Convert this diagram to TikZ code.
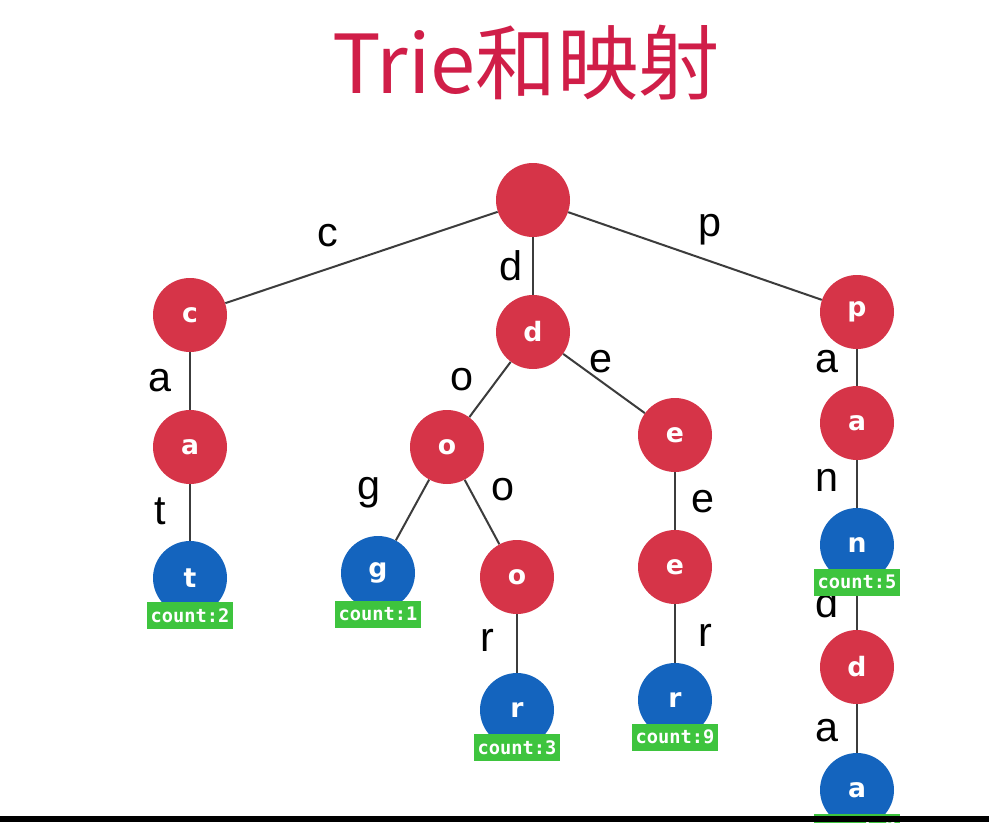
\documentclass[tikz,border=0pt]{standalone}
\usepackage{fontspec}
\setmainfont{Liberation Sans}
\newfontfamily\cjk{Noto Sans CJK SC}
\newfontfamily\letterfont{DejaVu Sans}
\newfontfamily\countfont{DejaVu Sans Mono}
\usepackage{tikz}
\usetikzlibrary{positioning}

\definecolor{titlered}{RGB}{208,30,72}
\definecolor{nodered}{RGB}{214,52,72}
\definecolor{nodeblue}{RGB}{20,100,190}
\definecolor{countgreen}{RGB}{62,196,62}
\definecolor{edgegray}{RGB}{60,60,60}

\tikzset{
    trienode/.style={circle, fill=nodered, minimum size=55.5pt, inner sep=0pt,
        text=white, font=\letterfont\bfseries\fontsize{20}{20}\selectfont},
    wordnode/.style={trienode, fill=nodeblue},
    countbox/.style={fill=countgreen, text=white, inner sep=0pt,
        minimum width=65pt, minimum height=20pt,
        font=\countfont\bfseries\fontsize{14}{14}\selectfont},
    edgelbl/.style={font=\fontsize{31}{31}\selectfont, inner sep=0pt},
    trieedge/.style={draw=edgegray, line width=1.5pt}
}

\begin{document}
\begin{tikzpicture}[x=0.75pt,y=-0.75pt]
    \useasboundingbox[fill=white] (0,0) rectangle (989,822);

    % Title
    \node[text=titlered, font=\cjk\fontsize{61}{61}\selectfont] (title) at (526,63) {Trie和映射};

    % Trie nodes
    \node[trienode] (root) at (533,200) {};
    \node[trienode] (c)  at (190,315) {c};
    \node[trienode] (d)  at (533,332) {d};
    \node[trienode] (p)  at (857,312) {p};
    \node[trienode] (ca) at (190,447) {a};
    \node[wordnode] (cat) at (190,578) {t};
    \node[trienode] (do) at (447,447) {o};
    \node[trienode] (de) at (675,435) {e};
    \node[wordnode] (dog) at (378,573) {g};
    \node[trienode] (doo) at (517,577) {o};
    \node[wordnode] (door) at (517,710) {r};
    \node[trienode] (dee) at (675,567) {e};
    \node[wordnode] (deer) at (675,700) {r};
    \node[trienode] (pa) at (857,423) {a};
    \node[wordnode] (pan) at (857,545) {n};
    \node[trienode] (pand) at (857,667) {d};
    \node[wordnode] (panda) at (857,790) {a};

    % Edges
    \foreach \u/\v in {root/c, root/d, root/p, c/ca, ca/cat, d/do, d/de,
        do/dog, do/doo, doo/door, de/dee, dee/deer, p/pa, pa/pan,
        pan/pand, pand/panda}
        \draw[trieedge] (\u) -- (\v);

    % Edge letters
    \node[edgelbl] (l-c) at (328,236) {c};
    \node[edgelbl] (l-d) at (511,266) {d};
    \node[edgelbl] (l-p) at (710,230) {p};
    \node[edgelbl] (l-ca) at (160,381) {a};
    \node[edgelbl] (l-cat) at (160,511) {t};
    \node[edgelbl] (l-do) at (462,380) {o};
    \node[edgelbl] (l-de) at (601,362) {e};
    \node[edgelbl] (l-dog) at (369,493) {g};
    \node[edgelbl] (l-doo) at (503,490) {o};
    \node[edgelbl] (l-door) at (487,640) {r};
    \node[edgelbl] (l-dee) at (703,502) {e};
    \node[edgelbl] (l-deer) at (705,635) {r};
    \node[edgelbl] (l-pa) at (827,362) {a};
    \node[edgelbl] (l-pan) at (827,480) {n};
    \node[edgelbl] (l-pand) at (827,603) {d};
    \node[edgelbl] (l-panda) at (827,731) {a};

    % Counts
    \node[countbox] (n-cat) at (cat.south) {count:2};
    \node[countbox] (n-dog) at ([yshift=-3pt]dog.south) {count:1};
    \node[countbox] (n-door) at (door.south) {count:3};
    \node[countbox] (n-deer) at (deer.south) {count:9};
    \node[countbox] (n-pan) at (pan.south) {count:5};
    \node[countbox] (n-panda) at (panda.south) {count:2};

    % Bottom bar
    \fill[black] (0,816) rectangle (989,822);
\end{tikzpicture}
\end{document}
